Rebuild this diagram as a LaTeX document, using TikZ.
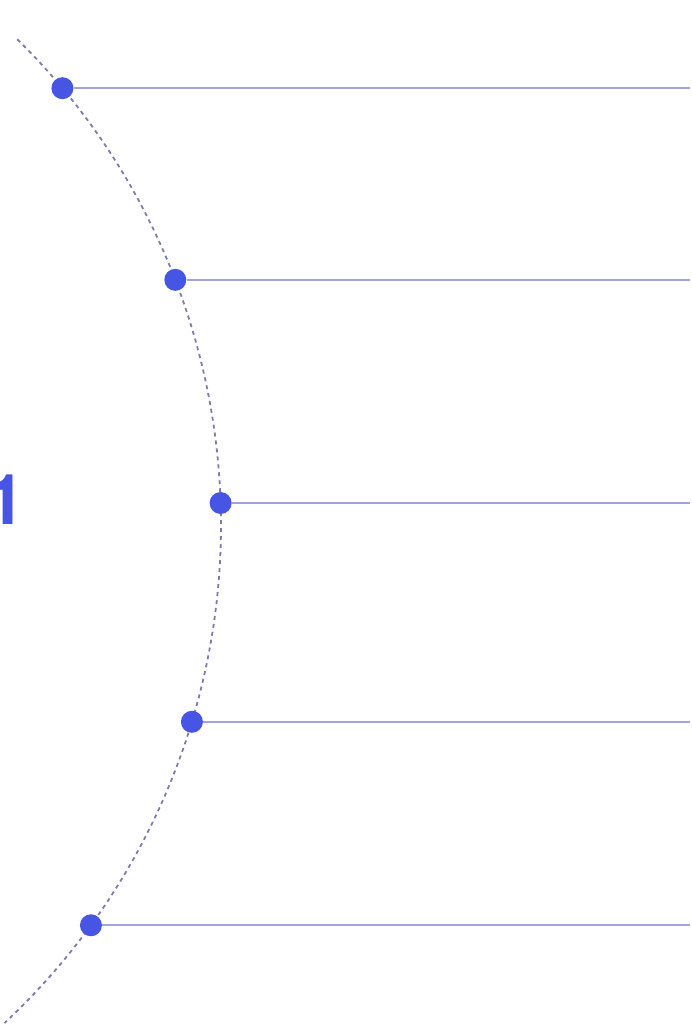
\documentclass[tikz,border=0pt]{standalone}
\usepackage{fontspec}
\newfontfamily\bignumfont{TeX Gyre Heros}
\definecolor{dotblue}{HTML}{4655E4}
\definecolor{spokelav}{HTML}{A2A2DE}
\definecolor{arcgray}{HTML}{7C7CAE}

\begin{document}
\begin{tikzpicture}[x=1pt, y=1pt,
    dot/.style={circle, fill=dotblue, inner sep=0pt, minimum size=22pt},
    spoke/.style={spokelav, line width=1.6pt}]
    \useasboundingbox (0,0) rectangle (692,1025);

    % Centre of the dashed arc and right edge
    \coordinate (c) at (-460,500);
    \coordinate (r) at (690,0);

    % Dashed arc
    \draw[arcgray, line width=1.8pt, dash pattern=on 4pt off 4pt]
        ([shift={(45.5:681)}]c) arc[start angle=45.5, end angle=-47, radius=681];

    % Dots and horizontal lines
    \foreach \a [count=\i] in {39.9,21.1,1.85,-16.8,-36.0} {
        \node[dot] (p\i) at ([shift={(\a:681)}]c) {};
        \coordinate (e\i) at (p\i -| r);
        \draw[spoke] (p\i) -- (e\i);
    }

    % Number (cut off at the left edge, as in the layout)
    \node[text=dotblue, anchor=east, inner sep=0pt] (num) at (26,525)
        {\bignumfont\bfseries\fontsize{70}{70}\selectfont 1};
\end{tikzpicture}
\end{document}
